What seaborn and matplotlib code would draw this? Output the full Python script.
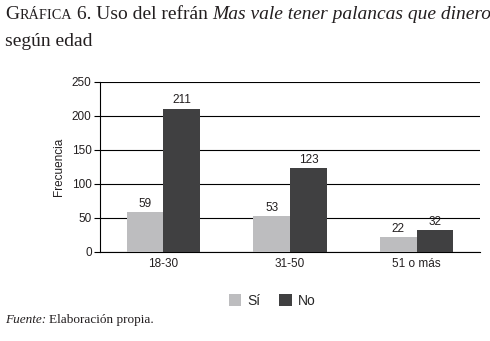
import matplotlib
matplotlib.use("Agg")
import matplotlib.pyplot as plt
import seaborn as sns
import pandas as pd
from matplotlib.patches import Patch

# Data
edades = ["18-30", "31-50", "51 o más"]
respuestas = ["Sí", "No"]
valores_si = [59, 53, 22]
valores_no = [211, 123, 32]
y_ticks = [0, 50, 100, 150, 200, 250]

colores = {"Sí": "#bdbdbf", "No": "#404041"}

df = pd.DataFrame({
    "Edad": edades * 2,
    "Respuesta": ["Sí"] * len(edades) + ["No"] * len(edades),
    "Frecuencia": valores_si + valores_no,
})

sns.set_style("white")
plt.rcParams["font.family"] = ["Liberation Sans", "DejaVu Sans"]

fig = plt.figure(figsize=(4.9, 3.41), dpi=100)
ax = fig.add_axes([100 / 490, 1 - 252 / 341, 380 / 490, 170 / 341])

sns.barplot(data=df, x="Edad", y="Frecuencia", hue="Respuesta", order=edades,
            hue_order=respuestas, palette=colores, width=0.58, saturation=1,
            linewidth=0, edgecolor="none", ax=ax, legend=False, zorder=3)

for cont in ax.containers:
    ax.bar_label(cont, padding=1.5, fontsize=8.5, color="#231f20")

ax.set_ylim(0, 250)
ax.set_xlim(-0.5, 2.5)
ax.set_yticks(y_ticks)
ax.set_yticklabels([str(v) for v in y_ticks], fontsize=8.5, color="#231f20")
ax.yaxis.grid(True, color="black", lw=0.8, zorder=0)
ax.set_axisbelow(True)

# category boundaries as major ticks, labels as minor
ax.set_xticks([-0.5, 0.5, 1.5, 2.5])
ax.set_xticklabels([])
ax.set_xticks([0, 1, 2], minor=True)
ax.set_xticklabels(edades, minor=True, fontsize=8.5, color="#231f20")
ax.tick_params(axis="x", which="major", length=4, width=0.8, color="black", direction="out")
ax.tick_params(axis="x", which="minor", length=0, pad=4)
ax.tick_params(axis="y", length=4, width=0.8, color="black", direction="out", pad=2, left=True)

for s in ["top", "right"]:
    ax.spines[s].set_visible(False)
for s in ["left", "bottom"]:
    ax.spines[s].set_color("black")
    ax.spines[s].set_linewidth(0.8)

ax.set_xlabel("")
ax.set_ylabel("Frecuencia", fontsize=8.5, color="#231f20", labelpad=5)

handles = [Patch(facecolor=colores[r], edgecolor="none") for r in respuestas]
fig.legend(handles, respuestas, loc="center", bbox_to_anchor=(272 / 490, 1 - 301 / 341),
           ncol=2, frameon=False, fontsize=10, handlelength=0.9, handleheight=0.9,
           handletextpad=0.4, columnspacing=1.4)

# Title with small caps and italics
serif = ["Liberation Serif", "DejaVu Serif"]
partes = [("G", 14, "normal"), ("RÁFICA", 10.3, "normal"), (" 6. Uso del refrán ", 14, "normal"),
          ("Mas vale tener palancas que dinero", 14, "italic")]
fig.canvas.draw()
renderer = fig.canvas.get_renderer()
x0 = 5 / 490
for texto, size, estilo in partes:
    t = fig.text(x0, 1 - 19 / 341, texto, fontsize=size, style=estilo, family=serif,
                 color="#231f20", ha="left", va="baseline")
    bb = t.get_window_extent(renderer=renderer)
    x0 = bb.x1 / fig.bbox.width
fig.text(5 / 490, 1 - 46 / 341, "según edad", fontsize=14, family=serif,
         color="#231f20", ha="left", va="baseline")

t = fig.text(5 / 490, 1 - 323 / 341, "Fuente:", fontsize=9.5, style="italic", family=serif,
             color="#231f20", ha="left", va="baseline")
bb = t.get_window_extent(renderer=renderer)
fig.text(bb.x1 / fig.bbox.width + 3 / 490, 1 - 323 / 341, "Elaboración propia.", fontsize=9.5,
         family=serif, color="#231f20", ha="left", va="baseline")

fig.savefig("out.png", dpi=100)
